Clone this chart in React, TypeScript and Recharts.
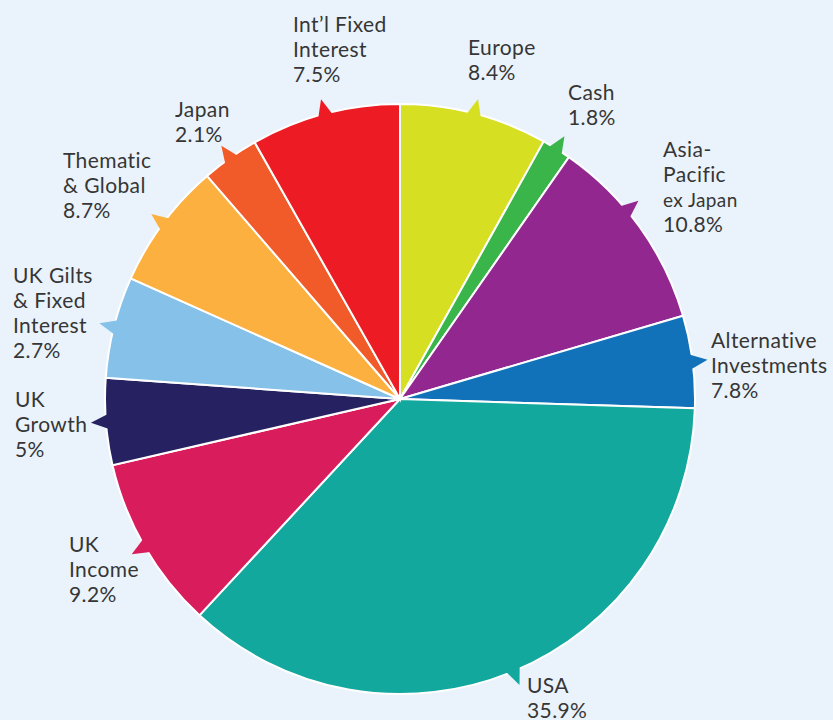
import { PieChart, Pie, Cell } from 'recharts';

// slices clockwise from 12 o'clock
const segments = [
  'Europe',
  'Cash',
  'Asia-Pacific ex Japan',
  'Alternative Investments',
  'USA',
  'UK Income',
  'UK Growth',
  'UK Gilts & Fixed Interest',
  'Thematic & Global',
  'Japan',
  'Int’l Fixed Interest',
];
// share of the circle each slice takes in the picture (%)
const shares = [8.1, 1.6, 10.75, 5.05, 36.4, 9.5, 4.75, 5.55, 6.95, 3.15, 8.2];
// the percentages printed on the labels
const printedPct = ['8.4%', '1.8%', '10.8%', '7.8%', '35.9%', '9.2%', '5%', '2.7%', '8.7%', '2.1%', '7.5%'];
const labelLines = [
  ['Europe'],
  ['Cash'],
  ['Asia-', 'Pacific', 'ex Japan'],
  ['Alternative', 'Investments'],
  ['USA'],
  ['UK', 'Income'],
  ['UK', 'Growth'],
  ['UK Gilts', '& Fixed', 'Interest'],
  ['Thematic', '& Global'],
  ['Japan'],
  ['Int’l Fixed', 'Interest'],
];

const COLORS = [
  '#D7DF23', '#39B54A', '#92278F', '#1172BA', '#13A89E', '#D91C5C',
  '#262262', '#85C1E8', '#FBB040', '#F15A29', '#ED1C24',
];
// text block anchor: left x, first baseline y
const LABEL_POS: [number, number][] = [
  [468, 55], [568, 100], [663, 157], [711, 348], [527, 693], [69, 552],
  [15, 407], [13, 283], [63, 168], [175, 117], [293, 32],
];
// pointer tabs sit at the slice middle, Asia-Pacific's a little earlier
const TAB_NUDGE = [0, 0, 4, 0, 0, 0, 0, 0, 0, 0, 0];
const SMALL_LINES = new Set(['ex Japan']);
const LINE_H = 25;
const RADIAN = Math.PI / 180;

const data = segments.map((name, i) => ({ name, value: shares[i], pct: printedPct[i] }));

const renderLabel = (props: any) => {
  const { cx, cy, midAngle, outerRadius, index } = props;
  const pt = (r: number, a: number) => [
    cx + r * Math.cos(-a * RADIAN),
    cy + r * Math.sin(-a * RADIAN),
  ];
  const a = midAngle + TAB_NUDGE[index];
  const [tx, ty] = pt(outerRadius + 15, a);
  const [ax, ay] = pt(outerRadius - 4, a + 1.6);
  const [bx, by] = pt(outerRadius - 4, a - 1.6);
  const [x, y] = LABEL_POS[index];
  const lines = [...labelLines[index], printedPct[index]];
  return (
    <g>
      <polygon points={`${tx},${ty} ${ax},${ay} ${bx},${by}`} fill={COLORS[index]} />
      <text
        x={x}
        y={y}
        fill="#363636"
        fontFamily="Lato, sans-serif"
        fontWeight={400}
        letterSpacing={0.4}
        fontSize={21}
      >
        {lines.map((l, i) => (
          <tspan key={i} x={x} y={y + i * LINE_H} fontSize={SMALL_LINES.has(l) ? 19 : 21}>
            {l}
          </tspan>
        ))}
      </text>
    </g>
  );
};

export default function App() {
  return (
    <div style={{ position: 'absolute', left: 0, top: 0, width: 833, height: 720, background: '#EAF3FB' }}>
      <PieChart width={833} height={720} margin={{ top: 0, right: 0, bottom: 0, left: 0 }}>
        <Pie
          data={data}
          dataKey="value"
          nameKey="name"
          cx={400}
          cy={399}
          outerRadius={295}
          startAngle={90}
          endAngle={-270}
          stroke="#ffffff"
          strokeWidth={2}
          label={renderLabel}
          labelLine={false}
          isAnimationActive={false}
        >
          {data.map((d, i) => (
            <Cell key={d.name} fill={COLORS[i]} />
          ))}
        </Pie>
      </PieChart>
    </div>
  );
}
